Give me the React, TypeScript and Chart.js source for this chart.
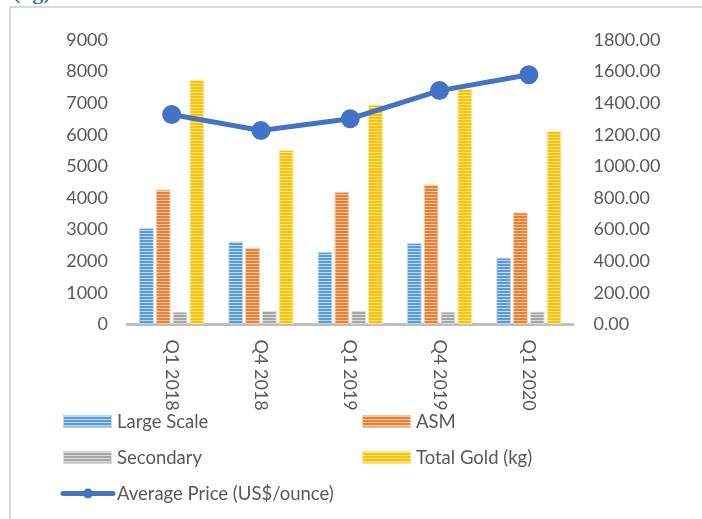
import React, { useEffect, useRef } from "react";
import { Chart, registerables } from "chart.js";

Chart.register(...registerables);

const categories = ["Q1 2018", "Q4 2018", "Q1 2019", "Q4 2019", "Q1 2020"];
const largeScale = [3050, 2630, 2300, 2580, 2120];
const asm = [4270, 2430, 4200, 4430, 3550];
const secondary = [410, 440, 430, 410, 410];
const totalGold = [7750, 5530, 6960, 7450, 6140];
const avgPrice = [1329, 1227, 1302, 1480, 1580];
const leftTicks = { min: 0, max: 9000, step: 1000 };
const rightTicks = { min: 0, max: 1800, step: 200 };

const FONT = "Lato";
const TEXT = "#595959";

function stripe(color: string, light: string): CanvasPattern | string {
  const c = document.createElement("canvas");
  c.width = 4;
  c.height = 3;
  const x = c.getContext("2d");
  if (!x) return color;
  x.fillStyle = color;
  x.fillRect(0, 0, 4, 3);
  x.fillStyle = light;
  x.fillRect(0, 2, 4, 1);
  const p = x.createPattern(c, "repeat");
  return p || color;
}

export default function App() {
  const ref = useRef<HTMLCanvasElement | null>(null);
  useEffect(() => {
    if (!ref.current) return;
    const styles = [
      { color: "#5B9BD5", light: "#BDD7EE" },
      { color: "#ED7D31", light: "#F8CBAD" },
      { color: "#A5A5A5", light: "#DBDBDB" },
      { color: "#FFC000", light: "#FFE699" },
    ];
    const pats = styles.map((s) => stripe(s.color, s.light));
    const names = ["Large Scale", "ASM", "Secondary", "Total Gold (kg)"];
    const series = [largeScale, asm, secondary, totalGold];

    const customPlugin = {
      id: "custom",
      beforeDraw(chart: any) {
        const ctx = chart.ctx;
        ctx.save();
        ctx.strokeStyle = "#D9D9D9";
        ctx.lineWidth = 2;
        ctx.beginPath();
        ctx.moveTo(10, 519);
        ctx.lineTo(10, 7);
        ctx.lineTo(702, 7);
        ctx.stroke();
        ctx.fillStyle = "#2E75B6";
        ctx.font = "bold 22px 'Liberation Serif'";
        ctx.textBaseline = "alphabetic";
        ctx.textAlign = "left";
        ctx.fillText("(kg)", 13, -1);
        ctx.restore();
      },
      afterDraw(chart: any) {
        const ctx = chart.ctx;
        const xs = chart.scales.x;
        const bottom = chart.chartArea.bottom;
        ctx.save();
        ctx.fillStyle = TEXT;
        ctx.font = `18px ${FONT}`;
        categories.forEach((lab, i) => {
          const x = xs.getPixelForValue(i);
          ctx.save();
          ctx.translate(x, bottom + 15);
          ctx.rotate(Math.PI / 2);
          ctx.textAlign = "left";
          ctx.textBaseline = "middle";
          ctx.fillText(lab, 0, 0);
          ctx.restore();
        });
        // legend
        const rows = [bottom + 97, bottom + 133, bottom + 169];
        const cols = [63, 362];
        ctx.font = `18.5px ${FONT}`;
        ctx.textBaseline = "middle";
        ctx.textAlign = "left";
        names.forEach((n, i) => {
          const cx = cols[i % 2];
          const cy = rows[Math.floor(i / 2)];
          ctx.fillStyle = pats[i];
          ctx.fillRect(cx, cy - 6, 49, 12);
          ctx.strokeStyle = styles[i].light;
          ctx.lineWidth = 1;
          ctx.strokeRect(cx + 0.5, cy - 5.5, 48, 11);
          ctx.fillStyle = TEXT;
          ctx.fillText(n, cx + 54, cy + 1);
        });
        const ly = rows[2];
        ctx.strokeStyle = "#4472C4";
        ctx.lineWidth = 5;
        ctx.lineCap = "round";
        ctx.beginPath();
        ctx.moveTo(63, ly);
        ctx.lineTo(113, ly);
        ctx.stroke();
        ctx.fillStyle = "#4472C4";
        ctx.beginPath();
        ctx.arc(88, ly, 5, 0, Math.PI * 2);
        ctx.fill();
        ctx.fillStyle = TEXT;
        ctx.fillText("Average Price (US$/ounce)", 117, ly + 1);
        ctx.restore();
      },
    };

    const datasets: any[] = series.map((d, i) => ({
      type: "bar",
      label: names[i],
      data: d,
      backgroundColor: pats[i],
      borderColor: styles[i].light,
      borderWidth: 1,
      yAxisID: "y",
      categoryPercentage: 0.753,
      barPercentage: 0.89,
      order: 1,
    }));
    datasets.push({
      type: "line",
      label: "Average Price (US$/ounce)",
      data: avgPrice,
      borderColor: "#4472C4",
      backgroundColor: "#4472C4",
      borderWidth: 5,
      pointRadius: 7,
      pointBackgroundColor: "#4472C4",
      pointBorderColor: "#4472C4",
      yAxisID: "y1",
      order: 0,
    });

    const chart = new Chart(ref.current, {
      type: "bar",
      data: { labels: categories, datasets },
      options: {
        responsive: false,
        animation: false,
        layout: { padding: { left: 0, right: 0, top: 40, bottom: 194.5 } },
        plugins: { legend: { display: false }, tooltip: { enabled: false } },
        scales: {
          x: {
            grid: { display: false },
            ticks: { display: false },
            border: { display: true, color: "#BFBFBF", width: 3 },
            afterFit(s: any) {
              s.height = 0;
            },
          },
          y: {
            position: "left",
            min: leftTicks.min,
            max: leftTicks.max,
            grid: { display: false, drawTicks: false },
            border: { display: false },
            ticks: {
              stepSize: leftTicks.step,
              color: TEXT,
              padding: 19,
              font: { family: FONT, size: 18 },
              callback: (v: any) => String(v),
            },
            afterFit(s: any) {
              s.width = 127;
            },
          },
          y1: {
            position: "right",
            min: rightTicks.min,
            max: rightTicks.max,
            grid: { display: false, drawTicks: false },
            border: { display: false },
            ticks: {
              stepSize: rightTicks.step,
              color: TEXT,
              padding: 20,
              font: { family: FONT, size: 18 },
              callback: (v: any) => Number(v).toFixed(2),
            },
            afterFit(s: any) {
              s.width = 128.5;
            },
          },
        },
      },
      plugins: [customPlugin],
    });
    return () => chart.destroy();
  }, []);

  return (
    <div style={{ position: "absolute", left: 0, top: 0, width: 702, height: 519, background: "#fff" }}>
      <canvas ref={ref} width={702} height={519} style={{ width: 702, height: 519, display: "block" }} />
    </div>
  );
}
